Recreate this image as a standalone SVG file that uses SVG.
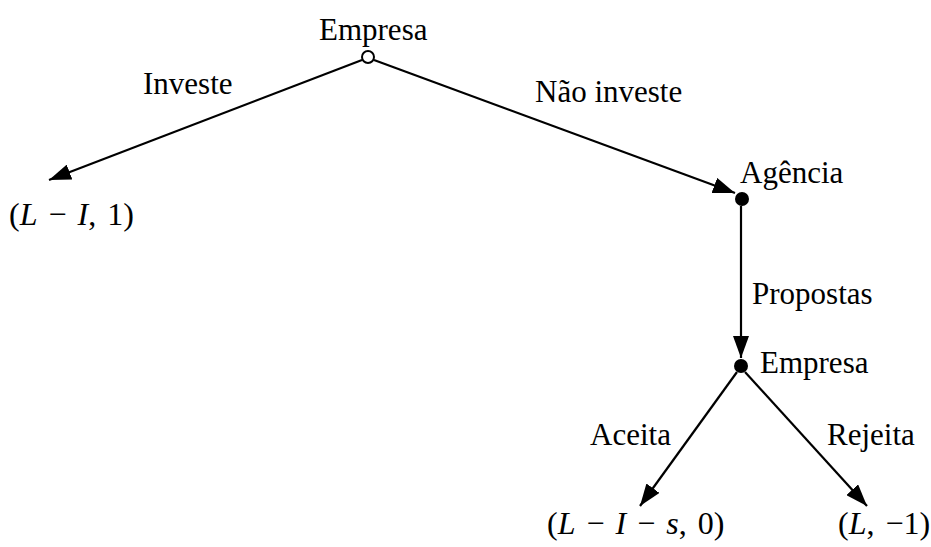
<svg xmlns="http://www.w3.org/2000/svg" width="931" height="547" viewBox="0 0 931 547">
<style>
text{font-family:"Liberation Serif","Times New Roman",serif;font-size:31px;fill:#000}
.m{font-size:32px;word-spacing:3px}
.i{font-style:italic}
.e{stroke:#000;stroke-width:2.2;fill:none;marker-end:url(#ah)}
</style>
<defs>
<marker id="ah" viewBox="0 0 22 16" refX="22" refY="8" markerWidth="22" markerHeight="16" markerUnits="userSpaceOnUse" orient="auto">
<path d="M0,0 L22,8 L0,16 z" fill="#000"/>
</marker>
</defs>
<rect width="931" height="547" fill="#fff"/>
<g id="connectors">
<line class="e" x1="362" y1="60" x2="49" y2="180"/>
<line class="e" x1="374" y1="60" x2="735" y2="193"/>
<line class="e" x1="741" y1="206" x2="741" y2="358"/>
<line class="e" x1="737" y1="372" x2="640" y2="506"/>
<line class="e" x1="745" y1="372" x2="867" y2="506"/>
</g>
<g id="labels">
<text x="143" y="94">Investe</text>
<text x="535" y="102">Não investe</text>
<text x="752" y="304">Propostas</text>
<text x="590" y="445">Aceita</text>
<text x="827" y="445">Rejeita</text>
</g>
<g id="n-root">
<circle cx="368" cy="57" r="6" fill="#fff" stroke="#000" stroke-width="2"/>
<text x="319" y="40">Empresa</text>
</g>
<g id="n-agencia">
<circle cx="742" cy="199" r="7" fill="#000"/>
<text x="740" y="183">Agência</text>
</g>
<g id="n-empresa2">
<circle cx="741" cy="366" r="7" fill="#000"/>
<text x="760" y="373">Empresa</text>
</g>
<g id="t-left">
<text x="9" y="225" class="m">(<tspan class="i">L</tspan> − <tspan class="i">I</tspan>, 1)</text>
</g>
<g id="t-acc">
<text x="547" y="534" class="m">(<tspan class="i">L</tspan> − <tspan class="i">I</tspan> − <tspan class="i">s</tspan>, 0)</text>
</g>
<g id="t-rej">
<text x="838" y="534" class="m">(<tspan class="i">L</tspan>, −1)</text>
</g>
</svg>
